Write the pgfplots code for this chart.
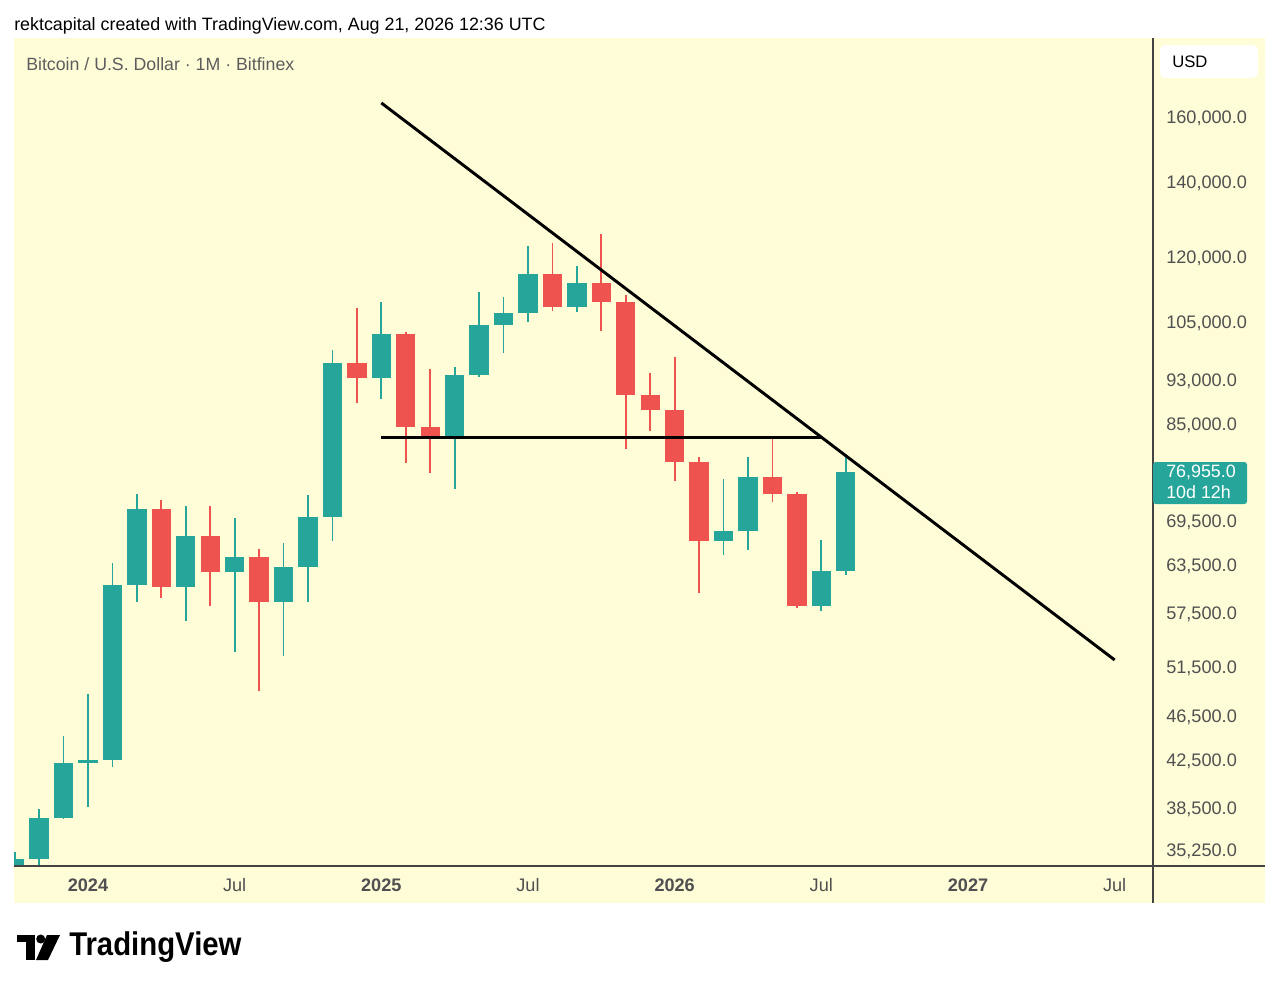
\documentclass[border=0pt]{standalone}
\usepackage{pgfplots}
\pgfplotsset{compat=1.18}
\usepackage{fontspec}
\setmainfont{Liberation Sans}
\definecolor{tvteal}{RGB}{38,166,154}
\definecolor{tvred}{RGB}{239,83,80}
\definecolor{tvbg}{RGB}{255,253,216}
\definecolor{tvaxis}{RGB}{67,67,67}
\definecolor{tvtick}{RGB}{80,80,80}
\definecolor{tvhead}{RGB}{93,93,93}
\begin{document}
\begin{tikzpicture}
\begin{scope}[x=0.75pt,y=-0.75pt]
\useasboundingbox (0,0) rectangle (1280,989);
\fill[white] (0,0) rectangle (1280,989);
\fill[tvbg] (14,38) rectangle (1265,903);
\end{scope}
\begin{axis}[
  at={(10.5pt,-649.5pt)}, anchor=south west,
  scale only axis, width=854.25pt, height=621pt,
  xmin=-3.0273, xmax=43.569,
  ymode=log, ymin=34099, ymax=188340,
  axis x line*=bottom, axis y line*=right,
  axis line style={draw=none},
  major tick length=0pt, tick style={draw=none},
  xtick={0,6,12,18,24,30,36,42},
  xticklabels={\textbf{2024},Jul,\textbf{2025},Jul,\textbf{2026},Jul,\textbf{2027},Jul},
  xticklabel style={anchor=center, inner sep=0pt, yshift=-14.25pt, font=\fontsize{13.6}{16}\selectfont, text=tvtick},
  ytick={35250,38500,42500,46500,51500,57500,63500,69500,85000,93000,105000,120000,140000,160000},
  yticklabels={{35,250.0},{38,500.0},{42,500.0},{46,500.0},{51,500.0},{57,500.0},{63,500.0},{69,500.0},{85,000.0},{93,000.0},{105,000.0},{120,000.0},{140,000.0},{160,000.0}},
  yticklabel style={anchor=west, inner sep=0pt, xshift=9.75pt, yshift=-1.4pt, font=\fontsize{13.6}{16}\selectfont, text=tvtick},
  unbounded coords=jump,
  clip=true,
]
% teal wicks
\addplot[tvteal, line width=1.3pt] coordinates {
(-3,26900)(-3,35110)(-3,nan)
(-2,34200)(-2,38350)(-2,nan)
(-1,37600)(-1,44590)(-1,nan)
(0,38510)(0,48620)(0,nan)
(1,41830)(1,63700)(1,nan)
(2,58800)(2,73490)(2,nan)
(4,56550)(4,71680)(4,nan)
(6,53040)(6,69930)(6,nan)
(8,52600)(8,66410)(8,nan)
(9,58800)(9,73330)(9,nan)
(10,66690)(10,98900)(10,nan)
(12,89410)(12,109220)(12,nan)
(15,74240)(15,95500)(15,nan)
(16,93550)(16,111500)(16,nan)
(17,98310)(17,110350)(17,nan)
(18,104800)(18,122600)(18,nan)
(20,107000)(20,117650)(20,nan)
(26,64780)(26,75800)(26,nan)
(27,65460)(27,79320)(27,nan)
(30,57730)(30,66840)(30,nan)
(31,62180)(31,79320)
};
% teal bodies
\addplot[tvteal, line width=14.5pt] coordinates {
(-3,26900)(-3,34590)(-3,nan)
(-2,34590)(-2,37650)(-2,nan)
(-1,37650)(-1,42180)(-1,nan)
(0,42180)(0,42440)(0,nan)
(1,42440)(1,60900)(1,nan)
(2,60900)(2,71250)(2,nan)
(4,60650)(4,67380)(4,nan)
(6,62560)(6,64530)(6,nan)
(8,58800)(8,63200)(8,nan)
(9,63200)(9,70080)(9,nan)
(10,70080)(10,96300)(10,nan)
(12,93360)(12,102240)(12,nan)
(15,82320)(15,93940)(15,nan)
(16,93940)(16,104160)(16,nan)
(17,104160)(17,106770)(17,nan)
(18,106770)(18,115700)(18,nan)
(20,108100)(20,113600)(20,nan)
(26,66690)(26,68080)(26,nan)
(27,68080)(27,76110)(27,nan)
(30,58320)(30,62690)(30,nan)
(31,62690)(31,76955)
};
% red wicks
\addplot[tvred, line width=1.3pt] coordinates {
(3,59280)(3,72570)(3,nan)
(5,58320)(5,71680)(5,nan)
(7,48930)(7,65600)(7,nan)
(11,88670)(11,107900)(11,nan)
(13,78340)(13,102700)(13,nan)
(14,76730)(14,95120)(14,nan)
(19,107220)(19,123370)(19,nan)
(21,102880)(21,125700)(21,nan)
(22,80640)(22,110800)(22,nan)
(23,83680)(23,94320)(23,nan)
(24,75490)(24,97500)(24,nan)
(25,59900)(25,79320)(25,nan)
(28,72290)(28,82660)(28,nan)
(29,58080)(29,73790)
};
% red bodies
\addplot[tvred, line width=14.5pt] coordinates {
(3,71250)(3,60650)(3,nan)
(5,67380)(5,62560)(5,nan)
(7,64530)(7,58800)(7,nan)
(11,96300)(11,93360)(11,nan)
(13,102240)(13,84390)(13,nan)
(14,84390)(14,82320)(14,nan)
(19,115700)(19,108100)(19,nan)
(21,113600)(21,109200)(21,nan)
(22,109200)(22,90150)(22,nan)
(23,90150)(23,87400)(23,nan)
(24,87400)(24,78500)(24,nan)
(25,78500)(25,66690)(25,nan)
(28,76110)(28,73490)(28,nan)
(29,73490)(29,58320)
};
% trend lines
\addplot[black, line width=2.2pt] coordinates {(12,164690)(42,52160)};
\addplot[black, line width=2.3pt] coordinates {(12,82490)(30,82490)};
\end{axis}
\begin{scope}[x=0.75pt,y=-0.75pt]
\draw[tvaxis, line width=1.3pt] (14,866) -- (1265,866);
\draw[tvaxis, line width=1.3pt] (1153,38) -- (1153,903);
\node[anchor=west, inner sep=0pt, font=\fontsize{13.4}{16}\selectfont, text=black] at (14,26) {rektcapital created with TradingView.com, Aug 21, 2026 12:36 UTC};
\node[anchor=west, inner sep=0pt, font=\fontsize{13.3}{16}\selectfont, text=tvhead] at (26,64) {Bitcoin / U.S. Dollar · 1M · Bitfinex};
\fill[white, rounded corners=4pt] (1160,45) rectangle (1258,78);
\node[anchor=west, inner sep=0pt, font=\fontsize{12.5}{15}\selectfont, text=black] at (1172,62) {USD};
\fill[tvteal, rounded corners=2pt] (1153,462) rectangle (1247,504);
\node[anchor=west, inner sep=0pt, font=\fontsize{13.4}{16}\selectfont, text=white] at (1166,472) {76,955.0};
\node[anchor=west, inner sep=0pt, font=\fontsize{13.4}{16}\selectfont, text=white] at (1166,492) {10d 12h};
% logo
\fill[black] (17,935) rectangle (35,942);
\fill[black] (26,935) rectangle (35,960);
\fill[black] (40.7,939) circle (4.5);
\fill[black] (47,935) -- (60,935) -- (48,960) -- (36,960) -- cycle;
\node[anchor=west, inner sep=0pt, font=\fontsize{22}{26}\selectfont\bfseries, text=black] at (69,947) {\scalebox{1}[1.12]{TradingView}};
\end{scope}
\end{tikzpicture}
\end{document}
